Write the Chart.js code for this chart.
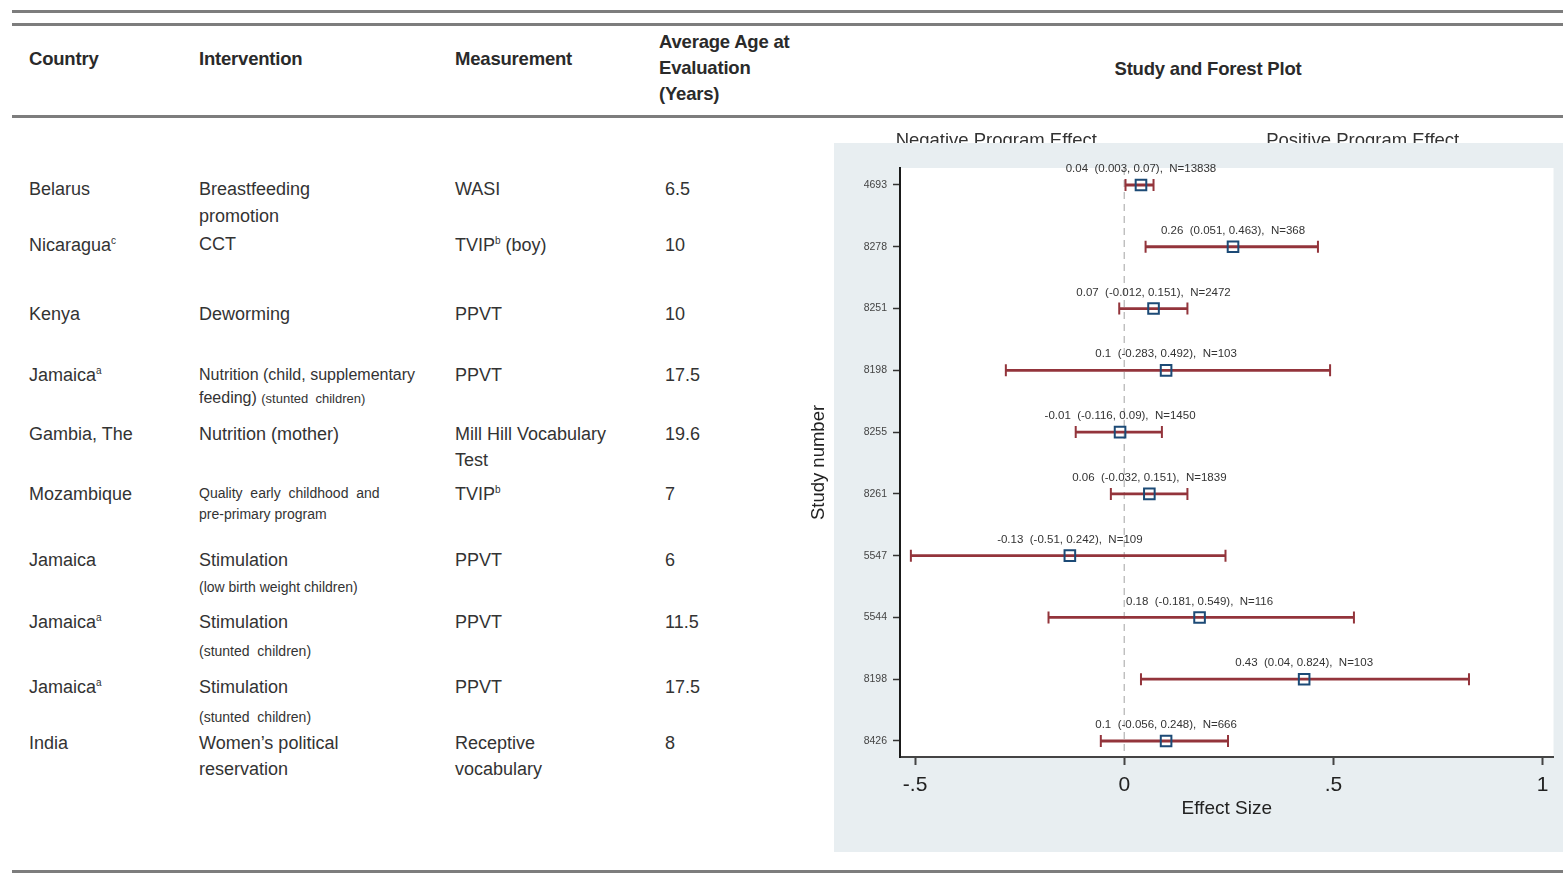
<!DOCTYPE html>
<html>
<head>
<meta charset="utf-8">
<script src="https://cdn.jsdelivr.net/npm/chart.js@4.4.1/dist/chart.umd.min.js"></script>
<style>
  html, body { margin: 0; padding: 0; background: #fff; }
  body { width: 1563px; height: 874px; position: relative; overflow: hidden;
         font-family: "Liberation Sans", Arial, sans-serif; color: #333; }
  .rule { position: absolute; left: 12px; right: 0; height: 3px; background: #7d7d7d; }
  .t { position: absolute; white-space: nowrap; line-height: 1; transform: translateY(-50%); }
  .h { font-weight: bold; font-size: 18.5px; color: #2a2a2a; letter-spacing: -0.2px; }
  .b { font-size: 18px; }
  .m { font-size: 16px; }
  .s { font-size: 14px; }
  .xs { font-size: 13px; }
  sup { font-size: 10px; vertical-align: top; position: relative; top: 0px; }
  #plot { position: absolute; left: 800px; top: 120px; width: 763px; height: 754px; }
</style>
</head>
<body>
<div class="rule" style="top:10px"></div>
<div class="rule" style="top:23px"></div>
<div class="rule" style="top:115px"></div>
<div class="rule" style="top:870px"></div>

<div id="table"></div>

<div id="plot"><canvas id="forest" width="763" height="754"></canvas></div>

<script>
// ---- study table ----
const headerCols = [
  { x: 29,  lines: ['Country'],                 y: [59] },
  { x: 199, lines: ['Intervention'],            y: [59] },
  { x: 455, lines: ['Measurement'],             y: [59] },
  { x: 659, lines: ['Average Age at', 'Evaluation', '(Years)'], y: [42, 68, 94] }
];
const rowY = [189, 245, 314, 375, 434, 494, 560, 622, 687, 743];
const countries = ['Belarus', 'Nicaragua', 'Kenya', 'Jamaica', 'Gambia, The', 'Mozambique',
                   'Jamaica', 'Jamaica', 'Jamaica', 'India'];
const countryNotes = ['', 'c', '', 'a', '', '', '', 'a', 'a', ''];
// intervention text: each entry is a list of [html, class, y]
const interventions = [
  [['Breastfeeding', 'b', 189], ['promotion', 'b', 216]],
  [['CCT', 'b', 244]],
  [['Deworming', 'b', 314]],
  [['Nutrition (child, supplementary', 'm', 375],
   ['feeding) <span class="xs">(stunted&nbsp; children)</span>', 'm', 398]],
  [['Nutrition (mother)', 'b', 434]],
  [['Quality&nbsp; early&nbsp; childhood&nbsp; and', 's', 493], ['pre-primary program', 's', 514]],
  [['Stimulation', 'b', 560], ['(low birth weight children)', 's', 587]],
  [['Stimulation', 'b', 622], ['(stunted&nbsp; children)', 's', 651]],
  [['Stimulation', 'b', 687], ['(stunted&nbsp; children)', 's', 717]],
  [['Women\u2019s political', 'b', 743], ['reservation', 'b', 769]]
];
const measurements = [
  ['WASI'], ['TVIP<sup>b</sup> (boy)'], ['PPVT'], ['PPVT'], ['Mill Hill Vocabulary', 'Test'],
  ['TVIP<sup>b</sup>'], ['PPVT'], ['PPVT'], ['PPVT'], ['Receptive', 'vocabulary']
];
const ages = ['6.5', '10', '10', '17.5', '19.6', '7', '6', '11.5', '17.5', '8'];

(function buildTable() {
  const host = document.getElementById('table');
  const put = (x, y, html, cls) => {
    const d = document.createElement('div');
    d.className = 't ' + cls;
    d.style.left = x + 'px';
    d.style.top = y + 'px';
    d.innerHTML = html;
    host.appendChild(d);
  };
  headerCols.forEach(c => c.lines.forEach((l, i) => put(c.x, c.y[i], l, 'h')));
  put(1208, 69, 'Study and Forest Plot', 'h');
  host.lastChild.style.transform = 'translate(-50%, -50%)';
  rowY.forEach((y, i) => {
    put(29, y, countries[i] + (countryNotes[i] ? '<sup>' + countryNotes[i] + '</sup>' : ''), 'b');
    interventions[i].forEach(([txt, cls, ly]) => put(199, ly, txt, cls));
    measurements[i].forEach((txt, k) => put(455, y + k * 26, txt, 'b'));
    put(665, y, ages[i], 'b');
  });
})();

// ---- forest plot data ----
const studyIds = ['4693', '8278', '8251', '8198', '8255', '8261', '5547', '5544', '8198', '8426'];
const effect   = [0.04, 0.26, 0.07, 0.1, -0.01, 0.06, -0.13, 0.18, 0.43, 0.1];
const ciLow    = [0.003, 0.051, -0.012, -0.283, -0.116, -0.032, -0.51, -0.181, 0.04, -0.056];
const ciHigh   = [0.07, 0.463, 0.151, 0.492, 0.09, 0.151, 0.242, 0.549, 0.824, 0.248];
const sampleN  = [13838, 368, 2472, 103, 1450, 1839, 109, 116, 103, 666];
const xTickValues = [-0.5, 0, 0.5, 1];
const xTickLabels = ['-.5', '0', '.5', '1'];

const FONT = '"Liberation Sans", Arial, sans-serif';
const CI_COLOR = '#93343b';
const MARK_COLOR = '#1c4a76';
const PANEL = '#e8eef1';

const ciSets = studyIds.map((id, i) => ({
  type: 'line',
  data: [{ x: ciLow[i], y: i + 1 }, { x: ciHigh[i], y: i + 1 }],
  borderColor: CI_COLOR,
  borderWidth: 2.8,
  pointStyle: 'line',
  pointRotation: 90,
  pointRadius: 6,
  pointBorderWidth: 2,
  pointBorderColor: CI_COLOR,
  pointBackgroundColor: CI_COLOR,
  order: 2
}));

const estimateSet = {
  type: 'scatter',
  data: effect.map((e, i) => ({ x: e, y: i + 1 })),
  pointStyle: 'rect',
  pointRadius: 7.5,
  pointBorderWidth: 2,
  pointBorderColor: MARK_COLOR,
  pointBackgroundColor: 'rgba(255,255,255,0)',
  order: 1
};

// panel background, white plot region, headings and the zero reference line
const panelPlugin = {
  id: 'panel',
  beforeDraw(chart) {
    const { ctx, chartArea: a, scales: { x } } = chart;
    ctx.save();
    ctx.fillStyle = '#333';
    ctx.font = '18.5px ' + FONT;
    ctx.textAlign = 'center';
    ctx.textBaseline = 'alphabetic';
    ctx.fillText('Negative Program Effect', x.getPixelForValue(-0.306), 26);
    ctx.fillText('Positive Program Effect', x.getPixelForValue(0.57), 26);
    ctx.fillStyle = PANEL;
    ctx.fillRect(34, 23, chart.width - 34, 709);
    ctx.fillStyle = '#fff';
    ctx.fillRect(a.left, a.top, a.right - a.left, a.bottom - a.top);
    const x0 = x.getPixelForValue(0);
    ctx.strokeStyle = '#b8b8b8';
    ctx.lineWidth = 1.3;
    ctx.setLineDash([7, 5]);
    ctx.beginPath();
    ctx.moveTo(x0, a.top);
    ctx.lineTo(x0, a.bottom);
    ctx.stroke();
    ctx.restore();
  }
};

// estimate, interval and sample size written above each study row
const labelPlugin = {
  id: 'estimateLabels',
  afterDatasetsDraw(chart) {
    const { ctx, scales: { x, y } } = chart;
    ctx.save();
    ctx.fillStyle = '#333';
    ctx.font = '11.5px ' + FONT;
    ctx.textAlign = 'center';
    ctx.textBaseline = 'middle';
    effect.forEach((e, i) => {
      const txt = `${e}  (${ciLow[i]}, ${ciHigh[i]}),  N=${sampleN[i]}`;
      ctx.fillText(txt, x.getPixelForValue(e), y.getPixelForValue(i + 1) - 16);
    });
    ctx.restore();
  }
};

new Chart(document.getElementById('forest'), {
  data: { datasets: [...ciSets, estimateSet] },
  options: {
    responsive: false,
    animation: false,
    layout: { padding: { top: 48, right: 6, left: 0, bottom: 0 } },
    plugins: { legend: { display: false }, tooltip: { enabled: false } },
    scales: {
      x: {
        type: 'linear',
        min: -0.536,
        max: 1.026,
        afterBuildTicks: s => { s.ticks = xTickValues.map(v => ({ value: v })); },
        afterFit: s => { s.height = 117; },
        grid: { drawOnChartArea: false, drawTicks: true, tickLength: 8, tickWidth: 2, tickColor: '#444' },
        border: { display: true, color: '#444', width: 2 },
        ticks: {
          padding: 8,
          color: '#222',
          font: { family: FONT, size: 21 },
          callback: v => xTickLabels[xTickValues.indexOf(v)]
        },
        title: {
          display: true, text: 'Effect Size', color: '#222',
          font: { family: FONT, size: 19 },
          padding: { top: 0, bottom: 54 }
        }
      },
      y: {
        type: 'linear',
        reverse: true,
        min: 0.725,
        max: 10.259,
        afterBuildTicks: s => { s.ticks = studyIds.map((_, i) => ({ value: i + 1 })); },
        afterFit: s => { s.width = 100; },
        grid: { drawOnChartArea: false, drawTicks: true, tickLength: 7, tickWidth: 1.5, tickColor: '#333' },
        border: { display: true, color: '#1a1a1a', width: 2 },
        ticks: {
          padding: 6,
          color: '#444',
          font: { family: FONT, size: 10.5 },
          callback: v => studyIds[v - 1]
        },
        title: {
          display: true, text: 'Study number', color: '#222',
          font: { family: FONT, size: 18.5 },
          padding: { top: 8, bottom: 0 }
        }
      }
    }
  },
  plugins: [panelPlugin, labelPlugin]
});
</script>
</body>
</html>
